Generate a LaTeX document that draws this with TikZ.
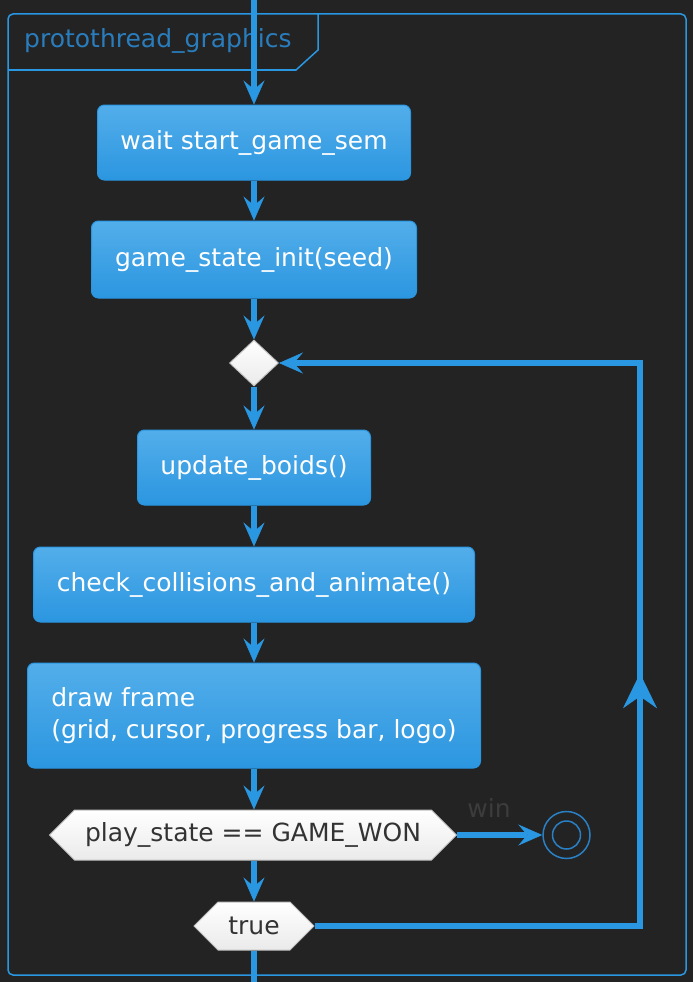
\documentclass[tikz,border=0pt]{standalone}
\usepackage{fontspec}
\setmainfont{DejaVu Sans}
\usetikzlibrary{shapes.geometric,shapes.symbols,arrows.meta,decorations.markings}
\definecolor{bg}{HTML}{232323}
\definecolor{ln}{HTML}{2A97E2}
\definecolor{btop}{HTML}{53AEEA}
\definecolor{bbot}{HTML}{2B96E0}
\definecolor{lbl}{HTML}{2A7DBD}
\definecolor{endc}{HTML}{2A80C4}
\definecolor{wintxt}{HTML}{3C3C3C}
\definecolor{hexdraw}{HTML}{C0C0C0}
\definecolor{hexbot}{HTML}{EAEAEA}
\definecolor{hextxt}{HTML}{333333}
\begin{document}
\begin{tikzpicture}[x=1pt,y=-1pt,
  tipsmall/.style={-{Stealth[length=24pt,width=21pt,inset=9pt,line width=0.5pt]}},
  conn/.style={draw=ln,line width=5.5pt,tipsmall},
  txt/.style={font=\fontsize{25}{32}\selectfont},
  act/.style={rectangle,rounded corners=7pt,draw=ln,line width=1pt,top color=btop,bottom color=bbot,text=white,txt,inner sep=0pt},
  hex/.style={signal,signal to=west and east,signal pointer angle=90,draw=hexdraw,line width=1pt,top color=white,bottom color=hexbot,text=hextxt,txt,inner sep=0pt},
  frameline/.style={draw=ln,line width=1.5pt}
]
\fill[bg] (0,0) rectangle (693,982);
\useasboundingbox (0,0) rectangle (693,982);
% frame
\draw[frameline,rounded corners=5pt] (8,14) rectangle (686,975);
\draw[frameline] (8,70) -- (296,70) -- (318,50) -- (318,14);
\node[text=lbl,txt,anchor=west,inner sep=0pt] (title) at (24,41) {protothread\_graphics};
% nodes
\node[act,minimum width=313pt,minimum height=75pt] (n1) at (254,142.5) {wait start\_game\_sem};
\node[act,minimum width=325pt,minimum height=77pt] (n2) at (254,259.5) {game\_state\_init(seed)};
\node[diamond,draw=hexdraw,line width=1pt,top color=white,bottom color=hexbot,minimum width=49pt,minimum height=46pt,inner sep=0pt] (d) at (254,363) {};
\node[act,minimum width=233pt,minimum height=75pt] (n3) at (254,467.5) {update\_boids()};
\node[act,minimum width=441pt,minimum height=75pt] (n4) at (254,584.5) {check\_collisions\_and\_animate()};
\node[act,minimum width=453pt,minimum height=105pt,align=left] (n5) at (254,715.5) {draw frame\\(grid, cursor, progress bar, logo)};
\node[hex,minimum width=407pt,minimum height=50pt] (ps) at (253,835) {play\_state == GAME\_WON};
\node[hex,minimum width=120pt,minimum height=48pt] (tr) at (254,926) {true};
\node[circle,draw=endc,line width=1.5pt,minimum size=47pt,inner sep=0pt] (end) at (566.5,835) {};
\node[circle,draw=endc,line width=1.5pt,minimum size=28pt,inner sep=0pt] (endi) at (end.center) {};
\node[text=wintxt,txt,inner sep=0pt] (win) at (489,808) {win};
% connectors
\coordinate (top) at (254,0);
\coordinate (bot) at (254,982);
\coordinate (lp) at (640,0);
\draw[conn] (top) -- (n1.north);
\draw[conn] (n1.south) -- (n2.north);
\draw[conn] (n2.south) -- (d.north);
\draw[conn] (d.south) -- (n3.north);
\draw[conn] (n3.south) -- (n4.north);
\draw[conn] (n4.south) -- (n5.north);
\draw[conn] (n5.south) -- (n5.south |- ps.north);
\draw[conn] (ps.south -| tr.north) -- (tr.north);
\draw[draw=ln,line width=5.5pt] (tr.south) -- (bot);
\draw[conn] (ps.east) -- (end.west);
\draw[conn,line join=miter,postaction={decorate},
  decoration={markings,mark=at position 578pt with {\arrow{Stealth[length=35pt,width=34pt,inset=12pt,line width=0.5pt,color=ln]}}}]
  (tr.east) -| (lp |- d.east) -- (d.east);
\end{tikzpicture}
\end{document}
